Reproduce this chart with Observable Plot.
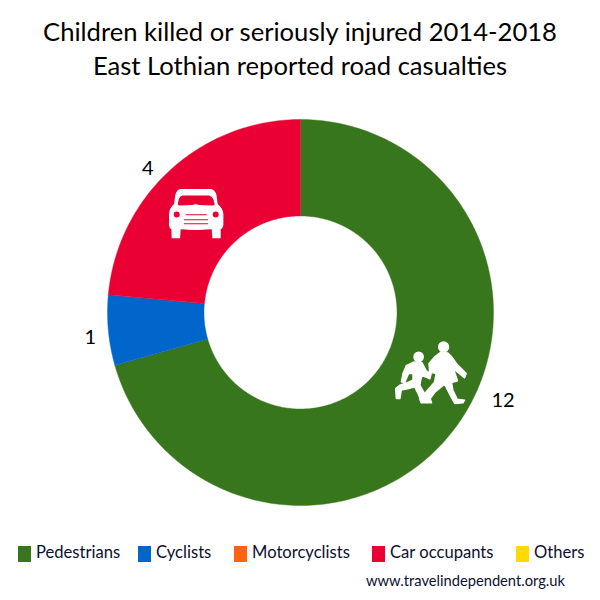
<!DOCTYPE html>
<html><head><meta charset="utf-8">
<script src="https://cdn.jsdelivr.net/npm/d3@7"></script>
<script src="https://cdn.jsdelivr.net/npm/@observablehq/plot@0.6"></script>
<style>
html,body{margin:0;padding:0;background:#fff}
#page{position:relative;width:600px;height:600px;overflow:hidden;font-family:Lato,"Open Sans",sans-serif}
#title{position:absolute;left:0;top:14px;width:600px;text-align:center;font-size:25.6px;line-height:34px;color:#000;white-space:nowrap}
#chart{position:absolute;left:0;top:100px}
#chart svg{display:block}
.sw{position:absolute;top:546px;width:13px;height:16px}
.lb{position:absolute;top:542px;font-size:16.6px;line-height:20px;color:#0b1030;white-space:nowrap}
#credit{position:absolute;left:366px;top:571px;font-size:14.7px;line-height:18px;color:#0b1030;white-space:nowrap}
</style></head><body>
<div id="page">
<div id="title"></div>
<div id="chart"></div>
</div>
<script>
const titleLines = ["Children killed or seriously injured 2014-2018", "East Lothian reported road casualties"];
const categories = ["Pedestrians", "Cyclists", "Motorcyclists", "Car occupants", "Others"];
const casualties = [12, 1, 0, 4, 0];
const colors = ["#38761d", "#0066cc", "#ff6310", "#ea0033", "#ffd900"];
const credit = "www.travelindependent.org.uk";

const legendLeft = [18, 138, 234, 372, 516];
const labelShift = {Pedestrians: [30, -42], Cyclists: [5, 5], "Car occupants": [-7, 16]};

const innerRatio = 0.5;
const pie = d3.pie().sort(null)(casualties);

const ringPoints = [];
categories.forEach((category, i) => {
  const {startAngle: a0, endAngle: a1, value} = pie[i];
  if (!value) return;
  const n = Math.max(2, Math.ceil((a1 - a0) * 60));
  const ang = d3.range(n + 1).map(k => a0 + (a1 - a0) * k / n);
  for (const a of ang) ringPoints.push({category, x: Math.sin(a), y: Math.cos(a)});
  for (const a of ang.slice().reverse()) ringPoints.push({category, x: innerRatio * Math.sin(a), y: innerRatio * Math.cos(a)});
});

const labelData = categories.map((category, i) => {
  const mid = (pie[i].startAngle + pie[i].endAngle) / 2;
  return {category, value: casualties[i], x: 1.12 * Math.sin(mid), y: 1.12 * Math.cos(mid)};
}).filter(d => d.value > 0);

const carIcon = `<svg xmlns="http://www.w3.org/2000/svg" viewBox="0 0 270 240"><path fill="#fff" fill-rule="evenodd" d="M90 55L180 55Q193 57 197 72L201 100Q216 112 218 130L218 165Q216 174 210 176L210 203L185 203L183 176Q165 176 150 178L120 178Q105 176 90 176L88 203L63 203L62 176Q56 174 55 165L55 130Q56 112 70 100L74 72Q78 57 90 55Z
M95 75Q85 78 83 92L81 100Q81 105 88 105L125 103L135 100L145 103L185 105Q192 105 192 100L189 90Q186 78 175 75Z
M69 132a9 9 0 1 0 18 0a9 9 0 1 0 -18 0Z M186 132a9 9 0 1 0 18 0a9 9 0 1 0 -18 0Z
M105 131L168 131L168 134L105 134Z M100 146L172 146L172 149L100 149Z M100 158L172 158L172 161L100 161Z"/></svg>`;

const kidsIcon = `<svg xmlns="http://www.w3.org/2000/svg" viewBox="0 0 270 255"><g fill="#fff" stroke="#fff" stroke-width="4" stroke-linejoin="round"><circle cx="177" cy="50" r="15"/><circle cx="102" cy="80" r="14"/>
<path d="M168 66L190 68L200 78L218 103L245 130L240 143L207 116L219 152L201 157L205 180L218 207L240 210L235 218L210 220L195 192L180 162L150 187L137 205L141 218L110 218L105 206L120 190L150 155L154 130L135 126L133 100L150 80Z"/>
<path d="M88 95L112 97L125 122L140 130L136 146L115 137L110 142L106 165L120 190L126 206L110 215L100 190L90 170L72 175L50 180L46 205L35 205L33 175L45 165L68 157L85 150L85 130L72 130L60 158L50 155L55 130L65 106Z"/></g></svg>`;

const uri = s => "data:image/svg+xml," + encodeURIComponent(s);
const iconData = [
  {src: uri(carIcon), x: -0.543, y: 0.528},
  {src: uri(kidsIcon), x: 0.669, y: -0.312}
];

const chart = Plot.plot({
  width: 600, height: 430,
  margin: 0,
  x: {domain: [-1, 1], range: [107, 493], axis: null},
  y: {domain: [-1, 1], range: [405, 19], axis: null},
  color: {domain: categories, range: colors},
  marks: [
    Plot.line(ringPoints, {x: "x", y: "y", z: "category", fill: "category", stroke: "category", strokeWidth: 0.4, curve: "linear-closed"}),
    Plot.image(iconData.slice(0, 1), {x: "x", y: "y", src: "src", width: 90, height: 80}),
    Plot.image(iconData.slice(1), {x: "x", y: "y", src: "src", width: 90, height: 85}),
    ...labelData.map(d => Plot.text([d], {
      x: "x", y: "y", text: "value",
      dx: labelShift[d.category][0], dy: labelShift[d.category][1],
      fontSize: 20, fill: "#000", fontFamily: "Lato, 'Open Sans', sans-serif"
    }))
  ]
});
document.getElementById("chart").append(chart);

const page = document.getElementById("page");
document.getElementById("title").innerHTML = titleLines.join("<br>");
categories.forEach((c, i) => {
  const sw = document.createElement("div");
  sw.className = "sw"; sw.style.left = legendLeft[i] + "px"; sw.style.background = colors[i];
  const lb = document.createElement("div");
  lb.className = "lb"; lb.style.left = (legendLeft[i] + 18) + "px"; lb.textContent = c;
  page.append(sw, lb);
});
const cr = document.createElement("div");
cr.id = "credit"; cr.textContent = credit;
page.append(cr);
</script>
</body></html>
